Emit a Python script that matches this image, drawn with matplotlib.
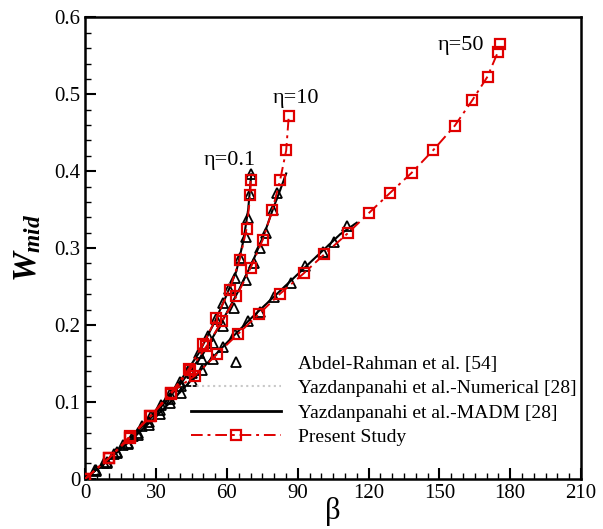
import numpy as np
import matplotlib
matplotlib.use('Agg')
import matplotlib.pyplot as plt
from matplotlib.ticker import MultipleLocator, FuncFormatter

plt.rcParams['font.family'] = ['Liberation Serif', 'DejaVu Serif']
plt.rcParams['mathtext.fontset'] = 'custom'
plt.rcParams['mathtext.it'] = 'Liberation Serif:italic:bold'
plt.rcParams['mathtext.rm'] = 'Liberation Serif:bold'

# ---- Present Study (red squares, dash-dot) ----
beta_p01 = [0, 10.1, 18.9, 27.6, 36.2, 43.9, 49.9, 55.5, 61.1, 65.4, 68.3, 69.9, 70.0]
w_p01 = [0, 0.027, 0.053, 0.081, 0.111, 0.143, 0.175, 0.209, 0.246, 0.285, 0.325, 0.369, 0.388]

beta_p10 = [0, 10.1, 18.9, 27.6, 36.2, 44.2, 51.3, 58.0, 64.0, 70.0, 75.2, 79.2, 82.5, 85.1, 86.2]
w_p10 = [0, 0.027, 0.054, 0.081, 0.110, 0.141, 0.172, 0.205, 0.237, 0.274, 0.311, 0.349, 0.388, 0.427, 0.472]

beta_p50 = [0, 10.1, 18.9, 27.8, 36.2, 46.5, 55.8, 64.6, 73.5, 82.3, 92.5, 101.3, 111.1,
            120.3, 129.2, 138.3, 147.3, 156.5, 163.9, 170.4, 174.8, 175.6]
w_p50 = [0, 0.027, 0.055, 0.082, 0.112, 0.134, 0.162, 0.188, 0.214, 0.240, 0.267, 0.292, 0.319,
         0.346, 0.372, 0.398, 0.427, 0.459, 0.492, 0.523, 0.555, 0.565]

# ---- Yazdanpanahi et al. - MADM (black solid) ----
beta_m01 = [0, 10, 20, 30, 40, 48, 55, 60, 64, 67, 69, 70.3]
w_m01 = [0, 0.026, 0.056, 0.089, 0.126, 0.163, 0.205, 0.240, 0.270, 0.310, 0.350, 0.396]

beta_m10 = [0, 10, 20, 30, 40, 50, 58, 65, 71, 76, 79.4, 82.5, 85.1]
w_m10 = [0, 0.026, 0.055, 0.086, 0.122, 0.163, 0.205, 0.245, 0.283, 0.320, 0.350, 0.375, 0.397]

beta_m50 = [0, 10, 20, 30, 40, 50, 60, 70, 80, 90, 100, 108, 115]
w_m50 = [0, 0.025, 0.052, 0.081, 0.112, 0.145, 0.177, 0.208, 0.237, 0.266, 0.295, 0.318, 0.333]

# ---- Abdel-Rahman et al. (black triangles) ----
beta_a01 = [0, 4, 8, 12, 16, 20, 24, 28, 32, 36, 40, 44, 48, 52, 55.5, 58.5, 61, 63.3,
            65.5, 67.9, 68.9, 69.6, 70.0]
w_a01 = [0, 0.011, 0.021, 0.032, 0.044, 0.056, 0.069, 0.082, 0.096, 0.110, 0.126, 0.143,
         0.163, 0.185, 0.208, 0.228, 0.247, 0.261, 0.287, 0.314, 0.339, 0.370, 0.396]

beta_a10 = [0, 4.5, 9, 13.5, 18, 22.5, 27, 31.5, 36, 40.5, 45, 49.5, 54, 58.5, 63,
            68.2, 71.5, 74.2, 76.6, 79.4, 81.1]
w_a10 = [0, 0.011, 0.022, 0.035, 0.047, 0.060, 0.074, 0.089, 0.104, 0.120, 0.138, 0.156,
         0.176, 0.198, 0.222, 0.258, 0.280, 0.300, 0.319, 0.350, 0.372]

beta_a50 = [0, 4.5, 9, 13.5, 18, 22.5, 27, 31.5, 36, 40.5, 45, 49.5, 54, 58.5, 63.5,
            68.9, 73.8, 80, 87.2, 93.2, 100.5, 105.5, 110.7]
w_a50 = [0, 0.010, 0.021, 0.033, 0.045, 0.057, 0.070, 0.084, 0.098, 0.112, 0.127, 0.141,
         0.156, 0.171, 0.188, 0.205, 0.217, 0.236, 0.254, 0.277, 0.295, 0.308, 0.329]

red = '#e00000'
dash = (6, 2.5, 1.5, 2.5)

fig = plt.figure(figsize=(6.03, 5.29), dpi=100)
ax = fig.add_axes([0.1415, 0.0951, 0.822, 0.872])

# numerical solution, drawn faint under the MADM lines
for b, w in [(beta_m01, w_m01), (beta_m10, w_m10), (beta_m50, w_m50)]:
    ax.plot(b, w, color='#c8c8c8', lw=1.5, ls=':', zorder=1)

for b, w in [(beta_m01, w_m01), (beta_m10, w_m10), (beta_m50, w_m50)]:
    ax.plot(b, w, color='black', lw=1.5, zorder=2)

for b, w in [(beta_a01, w_a01), (beta_a10, w_a10), (beta_a50, w_a50)]:
    ax.plot(b, w, ls='none', marker='^', ms=6.5, mfc='none', mec='black', mew=1.3, zorder=3)

for b, w in [(beta_p01, w_p01), (beta_p10, w_p10), (beta_p50, w_p50)]:
    ax.plot(b, w, color=red, lw=1.4, dashes=dash, marker='s', ms=6.5,
            mfc='none', mec=red, mew=1.6, zorder=4)

# legend handles
h1, = ax.plot([], [], ls='none', marker='^', ms=6.5, mfc='none', mec='black', mew=1.3)
h2, = ax.plot([], [], color='#c8c8c8', lw=1.5, ls=':')
h3, = ax.plot([], [], color='black', lw=2)
h4, = ax.plot([], [], color=red, lw=1.4, dashes=dash, marker='s', ms=6.5,
              mfc='none', mec=red, mew=1.6)
ax.legend([h1, h2, h3, h4],
          ['Abdel-Rahman et al. [54]', 'Yazdanpanahi et al.-Numerical [28]',
           'Yazdanpanahi et al.-MADM [28]', 'Present Study'],
          loc='lower right', bbox_to_anchor=(1.027, 0.033), frameon=False, fontsize=14,
          handlelength=4.6, labelspacing=0.35, handletextpad=0.9)

ax.text(61.1, 0.414, 'η=0.1', fontsize=16, ha='center', va='center')
ax.text(89.3, 0.495, 'η=10', fontsize=16, ha='center', va='center')
ax.text(159, 0.564, 'η=50', fontsize=16, ha='center', va='center')

ax.set_xlim(0, 210)
ax.set_ylim(0, 0.6)
ax.xaxis.set_major_locator(MultipleLocator(30))
ax.xaxis.set_minor_locator(MultipleLocator(5))
ax.yaxis.set_major_locator(MultipleLocator(0.1))
ax.yaxis.set_minor_locator(MultipleLocator(0.02))
ax.yaxis.set_major_formatter(FuncFormatter(lambda v, p: '%g' % round(v, 2)))
ax.tick_params(which='both', direction='in', top=False, right=False, labelsize=15)
ax.tick_params(which='major', length=8, width=1.5)
ax.tick_params(which='minor', length=4, width=1)
for s in ax.spines.values():
    s.set_linewidth(1.8)

ax.set_xlabel('β', fontsize=22, labelpad=-4)
ax.set_ylabel(r'$W_{mid}$', fontsize=24, labelpad=8)

fig.savefig('out.png', dpi=100)
